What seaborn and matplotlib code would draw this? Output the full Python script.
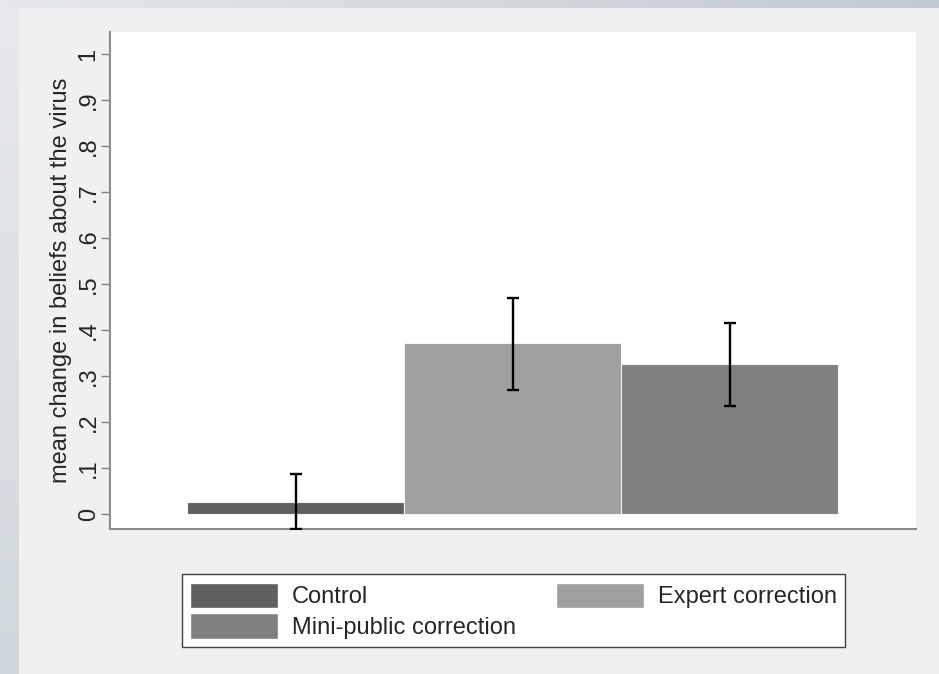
import numpy as np
import pandas as pd
import seaborn as sns
import matplotlib.pyplot as plt
from matplotlib.colors import LinearSegmentedColormap
from matplotlib.patches import Patch

groups = ["Control", "Expert correction", "Mini-public correction"]
means = [0.027, 0.372, 0.327]
ci_low = [-0.033, 0.270, 0.235]
ci_high = [0.086, 0.470, 0.416]
ytick_vals = [0, 0.1, 0.2, 0.3, 0.4, 0.5, 0.6, 0.7, 0.8, 0.9, 1.0]
ytick_labels = ["0", ".1", ".2", ".3", ".4", ".5", ".6", ".7", ".8", ".9", "1"]

palette = {
    "Control": "#606060",
    "Expert correction": "#a0a0a0",
    "Mini-public correction": "#808080",
}

sns.set_style("white")
plt.rcParams["font.family"] = ["Liberation Sans", "DejaVu Sans"]

df = pd.DataFrame({"group": groups, "mean": means})

fig = plt.figure(figsize=(9.39, 6.74), dpi=100)
fig.patch.set_facecolor("#f0f0f0")

# window border strips (top and left)
bg = fig.add_axes([0, 0, 1, 1], zorder=-5)
bg.axis("off")
top_cmap = LinearSegmentedColormap.from_list("top", ["#e6e8eb", "#c2cad0"])
left_cmap = LinearSegmentedColormap.from_list("left", ["#d0d8dd", "#e8e9ec"])
bg.imshow(np.linspace(0, 1, 256)[None, :], cmap=top_cmap,
          extent=(0, 939, 8, 0), aspect="auto")
bg.imshow(np.linspace(0, 1, 256)[:, None], cmap=left_cmap,
          extent=(0, 19, 674, 8), aspect="auto", origin="lower")
bg.set_xlim(0, 939)
bg.set_ylim(674, 0)

ax = fig.add_axes([110 / 939, 1 - 529 / 674, 806 / 939, 497 / 674])
ax.set_facecolor("white")

sns.barplot(
    data=df,
    x="group",
    y="mean",
    hue="group",
    palette=palette,
    width=1.0,
    dodge=False,
    errorbar=None,
    legend=False,
    edgecolor="#f4f4f4",
    linewidth=0.8,
    ax=ax,
)

xs = np.arange(len(groups))
m = np.array(means)
ax.errorbar(
    xs,
    m,
    yerr=[m - np.array(ci_low), np.array(ci_high) - m],
    fmt="none",
    ecolor="black",
    elinewidth=1.7,
    capsize=4.3,
    capthick=1.7,
    zorder=5,
)

ax.set_xlim(-0.855, 2.859)
ax.set_ylim(-0.0326, 1.048)
ax.set_yticks(ytick_vals)
ax.set_yticklabels(ytick_labels, rotation=90, va="center", fontsize=17)
ax.set_xticks([])
ax.set_xlabel("")
ax.set_ylabel("mean change in beliefs about the virus", fontsize=17, labelpad=4)
ax.tick_params(axis="y", which="major", left=True, length=6.5, width=1,
               color="#808080", pad=0.9)

for side in ["top", "right"]:
    ax.spines[side].set_visible(False)
for side in ["left", "bottom"]:
    ax.spines[side].set_color("#8c8c8c")
    ax.spines[side].set_linewidth(1.5)

handles = [
    Patch(facecolor=palette["Control"], label="Control"),
    Patch(facecolor=palette["Mini-public correction"], label="Mini-public correction"),
    Patch(facecolor=palette["Expert correction"], label="Expert correction"),
]
leg = fig.legend(
    handles=handles,
    ncol=2,
    loc="lower left",
    bbox_to_anchor=(182 / 939, 1 - 647 / 674, 663 / 939, 75 / 674),
    mode="expand",
    fontsize=17,
    frameon=True,
    fancybox=False,
    edgecolor="#404040",
    facecolor="white",
    framealpha=1,
    handlelength=3.7,
    handleheight=1.28,
    handletextpad=0.6,
    labelspacing=0.2,
    borderpad=0.35,
    borderaxespad=0,
)
leg.get_frame().set_linewidth(1.0)

fig.savefig("out.png", dpi=100, facecolor=fig.get_facecolor())
